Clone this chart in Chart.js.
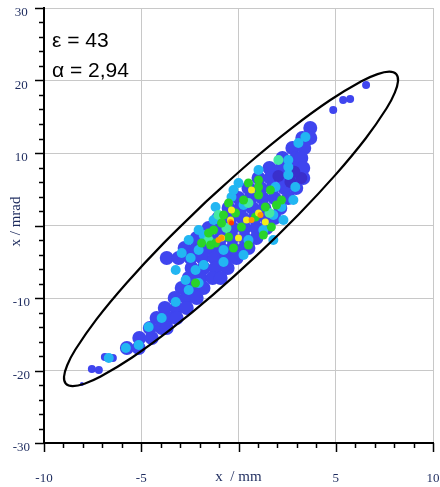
<!DOCTYPE html>
<html>
<head>
<meta charset="utf-8">
<style>
  html, body { margin: 0; padding: 0; background: #fff; }
  #wrap { width: 440px; height: 487px; }
</style>
<script src="https://cdn.jsdelivr.net/npm/chart.js@4/dist/chart.umd.min.js"></script>
</head>
<body>
<div id="wrap"><canvas id="c" width="440" height="487"></canvas></div>
<script>
  // ejes
  const xRange = [-10, 10];
  const yRange = [-30, 30];
  const xLabelValues = [-10, -5, 5, 10];
  const yLabelValues = [30, 20, 10, -10, -20, -30];
  const xTitle = 'x  / mm';
  const yTitle = 'x / mrad';
  const notes = ['ε = 43', 'α = 2,94'];

  // elipse de emitancia
  const ellipsePts = [
    [-1.681, 3.258], [0.561, 8.659], [2.738, 13.440], [4.702, 17.273], [6.319, 19.895],
    [7.150, 20.880], [7.751, 21.215], [8.106, 20.894], [8.202, 19.921], [8.037, 18.331],
    [7.616, 16.168], [6.536, 12.001], [4.983, 6.985], [3.065, 1.459], [0.912, -4.196],
    [-1.330, -9.597], [-3.507, -14.378], [-5.471, -18.211], [-7.089, -20.833], [-7.919, -21.818],
    [-8.521, -22.153], [-8.875, -21.832], [-8.971, -20.859], [-8.807, -19.269], [-8.385, -17.106],
    [-7.305, -12.939], [-5.752, -7.923], [-3.834, -2.397], [-1.681, 3.258]
  ];

  // densidad del haz por niveles
  const blueMain = [
    [3.69, 13.45],
    [3.28, 12.07], [3.69, 12.07],
    [2.77, 10.69], [3.38, 10.69],
    [2.26, 9.31], [2.97, 9.31], [3.23, 9.31],
    [1.59, 7.93], [2.21, 7.93], [2.82, 7.93], [3.33, 7.93],
    [1.03, 6.55], [1.64, 6.55], [2.26, 6.55], [2.87, 6.55], [3.33, 6.55],
    [0.51, 5.17], [1.13, 5.17], [1.74, 5.17], [2.36, 5.17], [2.97, 5.17],
    [0, 3.79], [0.62, 3.79], [1.23, 3.79], [1.85, 3.79], [2.56, 3.79],
    [-0.51, 2.41], [0.10, 2.41], [0.72, 2.41], [1.33, 2.41], [2.15, 2.41],
    [-1.03, 1.03], [-0.41, 1.03], [0.21, 1.03], [0.82, 1.03], [1.44, 1.03], [1.85, 1.03],
    [-1.54, -0.34], [-0.92, -0.34], [-0.31, -0.34], [0.31, -0.34], [0.92, -0.34], [1.44, -0.34],
    [-2.15, -1.72], [-1.54, -1.72], [-0.92, -1.72], [-0.31, -1.72], [0.31, -1.72], [0.92, -1.72],
    [-2.77, -3.10], [-2.15, -3.10], [-1.54, -3.10], [-0.92, -3.10], [-0.31, -3.10], [0.31, -3.10], [0.51, -3.10],
    [-3.69, -4.48], [-3.08, -4.48], [-2.46, -4.48], [-1.85, -4.48], [-1.23, -4.48], [-0.62, -4.48], [-0.10, -4.48],
    [-2.41, -5.86], [-1.79, -5.86], [-1.18, -5.86], [-0.56, -5.86],
    [-2.56, -7.24], [-1.95, -7.24], [-1.33, -7.24], [-0.92, -7.24],
    [-2.92, -8.62], [-2.31, -8.62], [-1.80, -8.62],
    [-3.28, -10.0], [-2.67, -10.0], [-2.15, -10.0],
    [-3.79, -11.38], [-3.18, -11.38], [-2.66, -11.38],
    [-4.21, -12.76], [-3.59, -12.76], [-3.18, -12.76],
    [-4.56, -14.14], [-3.95, -14.14], [-3.69, -14.14],
    [-5.10, -15.52], [-4.46, -15.52],
    [-5.74, -16.9], [-5.13, -16.9]
  ];
  const blueDark = [[2.05, 6.83], [2.67, 6.0], [3.23, 6.55], [2.87, 7.4]];
  const blueSmall = [
    [-7.54, -19.79], [-7.18, -19.93], [-6.87, -18.14], [-6.46, -18.28],
    [6.56, 19.38], [5.38, 17.31], [5.74, 17.45], [4.87, 15.93]
  ];
  const blueDot = [[-8.05, -21.86]];
  const cyanPts = [
    [3.44, 12.21], [3.08, 11.38], [2.56, 9.03], [2.56, 8.07], [1.03, 7.66],
    [1.90, 5.31], [2.92, 5.31], [2.21, 2.55], [-0.36, 3.93], [-1.18, 2.55],
    [-2.05, -0.62], [-2.56, -2.0], [-2.92, -3.79], [-3.23, -6.14], [-2.72, -7.52],
    [-2.21, -6.14], [-2.05, -7.93], [-2.56, -8.9], [-3.23, -10.55], [-3.95, -12.76],
    [-4.62, -14.0], [-5.79, -16.9], [-5.13, -16.48], [-6.67, -18.28],
    [-0.26, 4.9], [0.26, 2.83], [-1.28, 0.76], [-1.79, -1.31], [1.28, -0.62],
    [1.79, 1.45], [-0.77, -3.38], [0.51, -2.0],
    [-2.05, -3.38], [-2.46, -4.48], [2.56, 6.97], [2.82, 3.52], [2.31, 0.76],
    [1.79, -2.0], [0.26, -4.07], [-0.77, -5.03], [-1.79, -5.45], [0, 5.86]
  ];
  const aquaPts = [[-1.03, 1.45], [-0.62, -0.34], [2.05, 9.03], [-1.54, -2.0], [0.51, 3.10], [1.59, 1.72]];
  const greenPts = [
    [-0.87, 0.34], [-0.15, 1.72], [0.15, -0.21], [0.87, 1.17], [1.38, 2.55],
    [1.03, 5.31], [0.51, 5.86], [-0.51, 3.10], [-1.54, -1.03], [-1.90, -2.41],
    [-1.18, -2.41], [1.69, -0.21], [2.21, 3.52], [-0.51, -1.59], [1.03, 6.28],
    [-2.21, -7.93],
    [-1.28, -0.62], [-0.77, 1.45], [0.26, 3.52], [1.03, 4.21], [1.64, 4.90],
    [1.95, 2.83], [1.28, -1.31], [0.51, -2.69], [-0.26, -3.10], [-1.44, -2.69]
  ];
  const yellowPts = [
    [-0.36, 2.14], [-0.41, 0.76], [1.03, 1.72], [0.41, 0.76],
    [0, -1.72], [-0.87, -1.72], [0.67, 4.90], [1.38, 0.48]
  ];
  const orangePts = [[-0.87, -1.72], [-1.03, -2.0], [-0.41, 0.48], [0.67, 0.76], [1.13, 1.45]];
  const redPts = [[-0.36, 0.34]];

  const toXY = arr => arr.map(p => ({ x: p[0], y: p[1] }));

  function blob(data, color, radius, order) {
    return {
      type: 'scatter',
      data: toXY(data),
      backgroundColor: color,
      borderWidth: 0,
      pointRadius: radius,
      pointHoverRadius: radius,
      order: order
    };
  }

  const navy = '#1d2b5e';
  const serif = '"Liberation Serif", "DejaVu Serif", serif';

  const axisDecor = {
    id: 'axisDecor',
    afterDraw(chart) {
      const ctx = chart.ctx;
      const xs = chart.scales.x, ys = chart.scales.y;
      const area = chart.chartArea;
      ctx.save();
      ctx.strokeStyle = '#000';
      ctx.lineWidth = 1.5;
      // marcas del eje x
      xs.ticks.forEach(t => {
        const px = Math.round(xs.getPixelForValue(t.value)) + 0.5;
        const len = t.value % 5 === 0 ? 9 : 5;
        ctx.beginPath();
        ctx.moveTo(px, area.bottom);
        ctx.lineTo(px, area.bottom + len);
        ctx.stroke();
      });
      // marcas del eje y
      ys.ticks.forEach(t => {
        const py = Math.round(ys.getPixelForValue(t.value)) + 0.5;
        const len = t.value % 10 === 0 ? 9 : 5;
        ctx.beginPath();
        ctx.moveTo(area.left, py);
        ctx.lineTo(area.left - len, py);
        ctx.stroke();
      });
      // titulos de ejes
      ctx.fillStyle = navy;
      ctx.font = '15px ' + serif;
      ctx.textAlign = 'center';
      ctx.textBaseline = 'middle';
      ctx.fillText(xTitle, xs.getPixelForValue(0), area.bottom + 34);
      ctx.save();
      ctx.translate(16, ys.getPixelForValue(0) - 4);
      ctx.rotate(-Math.PI / 2);
      ctx.fillText(yTitle, 0, 0);
      ctx.restore();
      // emitancia y alfa
      ctx.fillStyle = '#000';
      ctx.font = '21px "Liberation Sans", Arial, sans-serif';
      ctx.textAlign = 'left';
      ctx.textBaseline = 'alphabetic';
      notes.forEach((n, i) => ctx.fillText(n, area.left + 8, area.top + 39 + i * 30));
      ctx.restore();
    }
  };

  new Chart(document.getElementById('c'), {
    type: 'scatter',
    data: {
      datasets: [
        {
          type: 'line',
          data: toXY(ellipsePts),
          borderColor: '#000',
          borderWidth: 2.2,
          pointRadius: 0,
          tension: 0.35,
          fill: false,
          order: 0
        },
        blob(redPts, '#ff3a00', 2.5, 1),
        blob(orangePts, '#ff9600', 3, 2),
        blob(yellowPts, '#f2ee1a', 3.5, 3),
        blob(greenPts, '#2ad42a', 4.5, 4),
        blob(aquaPts, '#44e8a4', 5, 5),
        blob(cyanPts, '#22b6f2', 5, 6),
        blob(blueDark, '#3a2fcc', 6, 7),
        blob(blueDot, '#3f45ef', 2, 8),
        blob(blueSmall, '#3f45ef', 4, 8),
        blob(blueMain, '#3f45ef', 7, 9)
      ]
    },
    options: {
      responsive: false,
      animation: false,
      events: [],
      devicePixelRatio: 1,
      layout: { padding: { top: 8, right: 5, left: 0, bottom: 0 } },
      plugins: { legend: { display: false }, tooltip: { enabled: false } },
      scales: {
        x: {
          type: 'linear',
          min: xRange[0], max: xRange[1],
          afterFit: s => { s.height = 44; s.paddingLeft = 0; s.paddingRight = 0; },
          border: { display: true, color: '#000', width: 2 },
          grid: {
            drawTicks: false,
            lineWidth: 1,
            color: c => (c.tick && c.tick.value % 5 === 0) ? '#c8c8c8' : 'rgba(0,0,0,0)'
          },
          ticks: {
            stepSize: 1,
            autoSkip: false,
            maxRotation: 0,
            minRotation: 0,
            padding: 28,
            color: navy,
            font: { family: serif, size: 13 },
            callback: v => xLabelValues.includes(v) ? String(v) : ''
          }
        },
        y: {
          type: 'linear',
          min: yRange[0], max: yRange[1],
          afterFit: s => { s.width = 44; s.paddingTop = 0; s.paddingBottom = 0; },
          border: { display: true, color: '#000', width: 2 },
          grid: {
            drawTicks: false,
            lineWidth: 1,
            color: c => (c.tick && c.tick.value % 10 === 0) ? '#c8c8c8' : 'rgba(0,0,0,0)'
          },
          ticks: {
            stepSize: 2,
            autoSkip: false,
            padding: 14,
            crossAlign: 'center',
            labelOffset: 5,
            color: navy,
            font: { family: serif, size: 13 },
            callback: v => yLabelValues.includes(v) ? String(v) : ''
          }
        }
      }
    },
    plugins: [axisDecor]
  });
</script>
</body>
</html>
